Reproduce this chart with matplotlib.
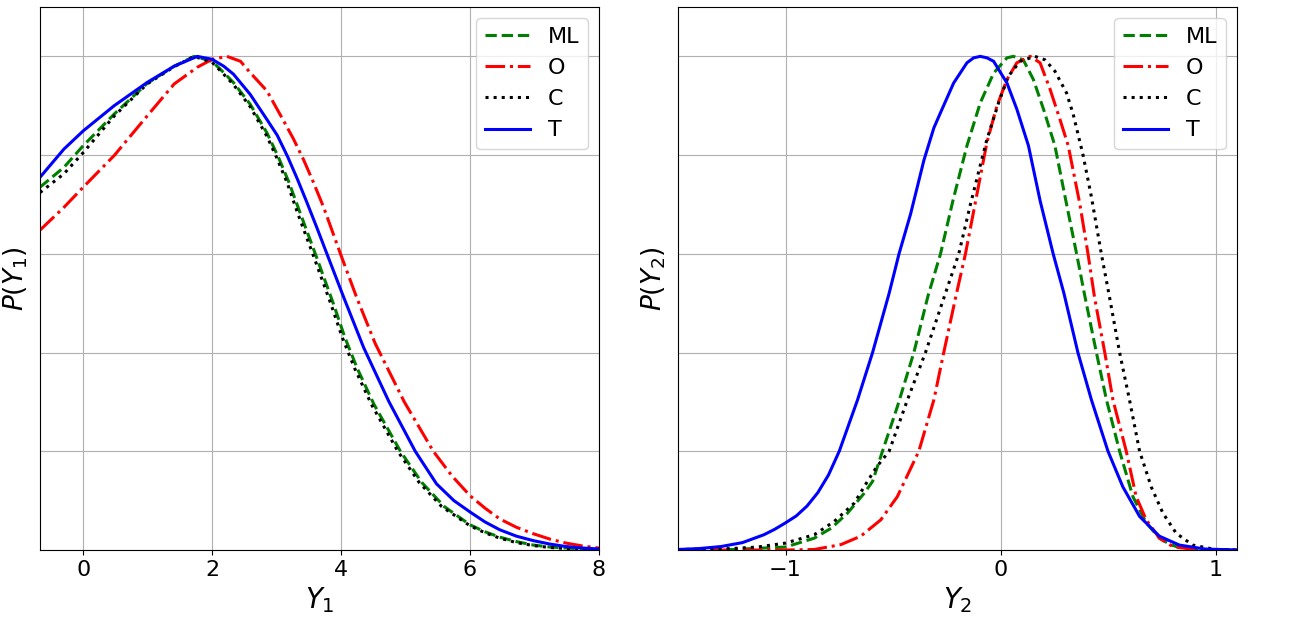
import matplotlib
matplotlib.use('Agg')
import matplotlib.pyplot as plt

# ---- left panel: Y1 ----
ml1_x = [-0.67, -0.30, 0.0, 0.48, 0.99, 1.41, 1.72, 2.0, 2.18, 2.33, 2.59, 2.85, 3.03, 3.19, 3.37, 3.60, 3.88, 4.06, 4.25, 4.51, 4.92, 5.25, 5.6, 6.0, 6.23, 6.46, 6.72, 6.98, 7.24, 7.5, 7.75, 8.0]
ml1_y = [0.735, 0.775, 0.819, 0.883, 0.945, 0.980, 1.0, 0.99, 0.967, 0.947, 0.903, 0.845, 0.795, 0.745, 0.681, 0.60, 0.499, 0.43, 0.368, 0.295, 0.20, 0.137, 0.088, 0.051, 0.037, 0.026, 0.017, 0.010, 0.006, 0.004, 0.002, 0.001]

o1_x = [-0.67, -0.30, 0.0, 0.48, 0.99, 1.41, 1.77, 2.0, 2.23, 2.44, 2.59, 2.85, 3.11, 3.26, 3.42, 3.57, 3.73, 3.99, 4.24, 4.53, 4.98, 5.43, 5.72, 6.0, 6.23, 6.46, 6.72, 6.98, 7.24, 7.49, 7.75, 8.0]
o1_y = [0.648, 0.694, 0.735, 0.799, 0.879, 0.944, 0.978, 0.994, 1.0, 0.99, 0.967, 0.93, 0.869, 0.833, 0.790, 0.745, 0.694, 0.60, 0.512, 0.418, 0.30, 0.20, 0.15, 0.11, 0.085, 0.063, 0.046, 0.033, 0.022, 0.014, 0.008, 0.004]

c1_x = [-0.67, -0.30, 0.0, 0.48, 0.99, 1.41, 1.72, 2.0, 2.17, 2.33, 2.59, 2.85, 3.0, 3.16, 3.33, 3.56, 3.84, 4.02, 4.21, 4.47, 4.88, 5.21, 5.56, 6.0, 6.23, 6.46, 6.72, 6.98, 7.24, 7.5, 7.75, 8.0]
c1_y = [0.724, 0.762, 0.805, 0.879, 0.944, 0.979, 1.0, 0.988, 0.965, 0.943, 0.898, 0.838, 0.795, 0.745, 0.681, 0.60, 0.499, 0.43, 0.368, 0.295, 0.20, 0.137, 0.088, 0.049, 0.035, 0.024, 0.015, 0.009, 0.005, 0.003, 0.002, 0.001]

t1_x = [-0.67, -0.30, 0.0, 0.48, 0.99, 1.41, 1.77, 2.0, 2.18, 2.33, 2.59, 2.85, 3.01, 3.17, 3.32, 3.47, 3.63, 3.78, 4.04, 4.35, 4.74, 5.15, 5.48, 5.75, 6.0, 6.23, 6.46, 6.72, 6.98, 7.24, 7.49, 7.75, 8.0]
t1_y = [0.755, 0.812, 0.849, 0.900, 0.947, 0.980, 1.0, 0.994, 0.980, 0.964, 0.923, 0.872, 0.840, 0.797, 0.752, 0.704, 0.651, 0.60, 0.512, 0.41, 0.301, 0.20, 0.134, 0.10, 0.077, 0.057, 0.041, 0.028, 0.019, 0.012, 0.007, 0.004, 0.002]

# ---- right panel: Y2 ----
ml2_x = [-1.5, -1.25, -1.0, -0.866, -0.788, -0.711, -0.634, -0.595, -0.549, -0.48, -0.403, -0.337, -0.279, -0.22, -0.156, -0.094, -0.032, 0.03, 0.06, 0.106, 0.153, 0.2, 0.253, 0.307, 0.354, 0.392, 0.446, 0.493, 0.554, 0.616, 0.678, 0.739, 0.79, 0.832, 0.95, 1.1]
ml2_y = [0.0, 0.001, 0.006, 0.024, 0.044, 0.075, 0.115, 0.139, 0.2, 0.29, 0.4, 0.515, 0.6, 0.71, 0.819, 0.906, 0.966, 0.997, 1.0, 0.993, 0.953, 0.893, 0.819, 0.701, 0.6, 0.515, 0.4, 0.304, 0.2, 0.108, 0.055, 0.024, 0.011, 0.005, 0.001, 0.0]

o2_x = [-1.5, -1.0, -0.866, -0.742, -0.65, -0.557, -0.48, -0.38, -0.31, -0.264, -0.207, -0.163, -0.11, -0.063, -0.017, 0.03, 0.076, 0.138, 0.184, 0.23, 0.276, 0.315, 0.369, 0.407, 0.438, 0.485, 0.523, 0.585, 0.631, 0.678, 0.739, 0.801, 0.9, 1.1]
o2_y = [0.0, 0.0, 0.001, 0.011, 0.028, 0.061, 0.108, 0.2, 0.304, 0.4, 0.515, 0.6, 0.72, 0.826, 0.899, 0.953, 0.987, 1.0, 0.987, 0.934, 0.873, 0.819, 0.701, 0.6, 0.51, 0.4, 0.304, 0.2, 0.108, 0.061, 0.024, 0.007, 0.001, 0.0]

c2_x = [-1.5, -1.25, -1.13, -1.0, -0.866, -0.773, -0.68, -0.619, -0.575, -0.518, -0.433, -0.349, -0.26, -0.194, -0.14, -0.082, -0.063, -0.009, 0.037, 0.091, 0.16, 0.207, 0.253, 0.307, 0.338, 0.384, 0.423, 0.469, 0.508, 0.554, 0.6, 0.647, 0.701, 0.755, 0.817, 0.894, 1.0, 1.1]
c2_y = [0.001, 0.003, 0.006, 0.014, 0.031, 0.058, 0.095, 0.139, 0.169, 0.2, 0.304, 0.4, 0.515, 0.6, 0.70, 0.8, 0.832, 0.906, 0.96, 0.99, 1.0, 0.993, 0.97, 0.926, 0.883, 0.8, 0.715, 0.6, 0.51, 0.4, 0.304, 0.2, 0.128, 0.075, 0.034, 0.01, 0.001, 0.0]

t2_x = [-1.5, -1.4, -1.3, -1.2, -1.1, -1.05, -1.0, -0.95, -0.9, -0.85, -0.8, -0.75, -0.665, -0.595, -0.518, -0.472, -0.418, -0.356, -0.31, -0.279, -0.218, -0.156, -0.125, -0.094, -0.063, -0.032, 0.03, 0.076, 0.13, 0.184, 0.245, 0.295, 0.36, 0.423, 0.5, 0.569, 0.647, 0.739, 0.832, 0.95, 1.1]
t2_y = [0.001, 0.003, 0.007, 0.015, 0.031, 0.042, 0.055, 0.069, 0.089, 0.116, 0.152, 0.2, 0.304, 0.4, 0.52, 0.6, 0.681, 0.79, 0.855, 0.886, 0.946, 0.987, 0.997, 1.0, 0.997, 0.99, 0.946, 0.893, 0.819, 0.708, 0.6, 0.52, 0.40, 0.304, 0.2, 0.128, 0.068, 0.028, 0.01, 0.002, 0.0]

labels = ['ML', 'O', 'C', 'T']
styles = [('g', '--'), ('r', '-.'), ('k', ':'), ('b', '-')]
yticks = [0, 0.2, 0.4, 0.6, 0.8, 1.0]

fig = plt.figure(figsize=(12.89, 6.21), dpi=100)
W, H = 1289, 621
ax1 = fig.add_axes([40 / W, 71 / H, 559 / W, 543 / H])
ax2 = fig.add_axes([678 / W, 71 / H, 559 / W, 543 / H])

panels = [
    (ax1, [(ml1_x, ml1_y), (o1_x, o1_y), (c1_x, c1_y), (t1_x, t1_y)], (-0.67, 8), [0, 2, 4, 6, 8], '$Y_1$', '$P(Y_1)$'),
    (ax2, [(ml2_x, ml2_y), (o2_x, o2_y), (c2_x, c2_y), (t2_x, t2_y)], (-1.5, 1.1), [-1, 0, 1], '$Y_2$', '$P(Y_2)$'),
]

for ax, series, xlim, xticks, xlab, ylab in panels:
    for (xs, ys), lab, (col, ls) in zip(series, labels, styles):
        ax.plot(xs, ys, color=col, linestyle=ls, linewidth=2.2, label=lab)
    ax.set_xlim(*xlim)
    ax.set_ylim(0, 1.1)
    ax.set_xticks(xticks)
    ax.set_yticks(yticks)
    ax.set_yticklabels([])
    ax.tick_params(axis='y', length=0)
    ax.tick_params(axis='x', labelsize=16)
    ax.grid(True)
    ax.set_xlabel(xlab, fontsize=20)
    ax.set_ylabel(ylab, fontsize=19)
    ax.legend(loc='upper right', fontsize=16)

fig.savefig('out.png', dpi=100)
